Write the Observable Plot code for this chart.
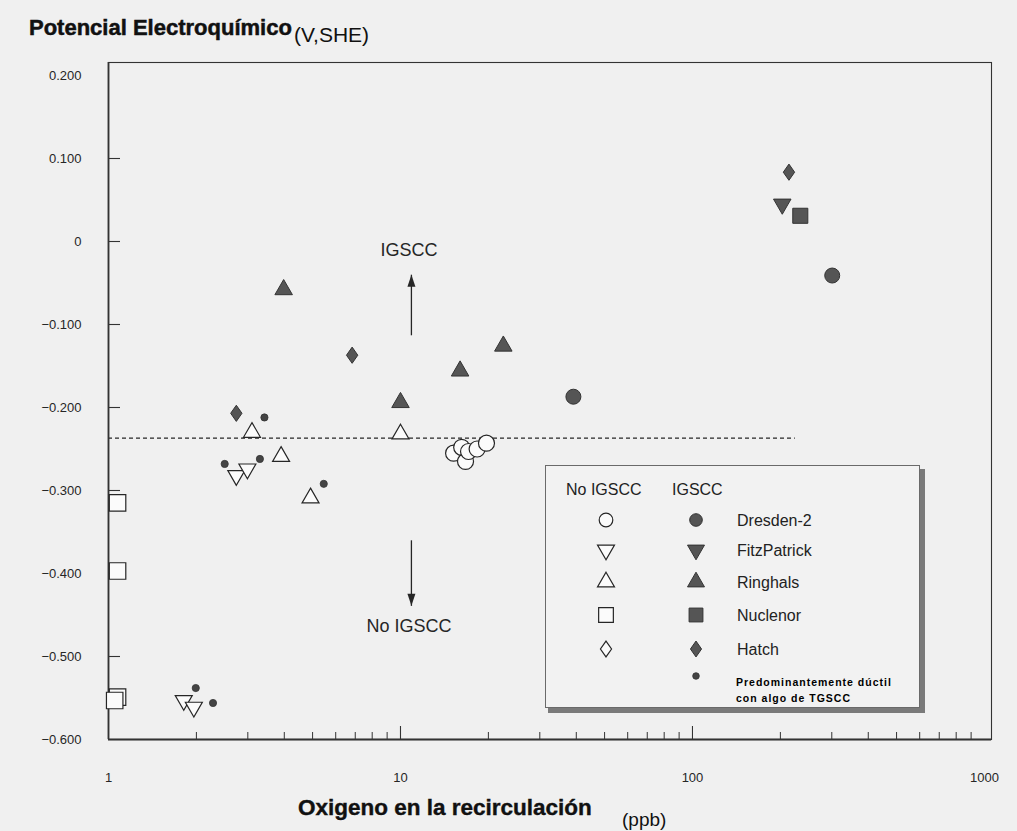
<!DOCTYPE html>
<html>
<head>
<meta charset="utf-8">
<script src="https://cdn.jsdelivr.net/npm/d3@7"></script>
<script src="https://cdn.jsdelivr.net/npm/@observablehq/plot@0.6"></script>
<style>
html,body{margin:0;padding:0;background:#f0f0f0;}
#wrap{position:relative;width:1017px;height:831px;overflow:hidden;}
#chart{position:absolute;left:0;top:0;}
#overlay{position:absolute;left:0;top:0;pointer-events:none;}
</style>
</head>
<body>
<div id="wrap"><div id="chart"></div></div>
<script>
// ---------------- data ----------------
// Oxygen (ppb) and potential (V, SHE)
const dresdenNoX = [15.2, 16.2, 16.7, 17.1, 18.3, 19.7];
const dresdenNoY = [-0.255, -0.248, -0.265, -0.253, -0.250, -0.243];
const dresdenX = [39.1, 301];
const dresdenY = [-0.187, -0.041];

const fitzNoX = [2.74, 2.99, 1.81, 1.96];
const fitzNoY = [-0.282, -0.274, -0.553, -0.561];
const fitzX = [203];
const fitzY = [0.045];

const ringNoX = [3.10, 3.90, 4.92, 10.0];
const ringNoY = [-0.230, -0.259, -0.309, -0.232];
const ringX = [3.98, 22.5, 16.0, 10.0];
const ringY = [-0.058, -0.126, -0.156, -0.194];

const nucNoX = [1.074, 1.074, 1.074, 1.05];
const nucNoY = [-0.315, -0.397, -0.549, -0.553];
const nucX = [234];
const nucY = [0.031];

const hatchX = [2.74, 6.83, 214];
const hatchY = [-0.207, -0.137, 0.0835];

const tgsccX = [3.42, 2.50, 3.30, 5.46, 1.99, 2.28];
const tgsccY = [-0.212, -0.268, -0.262, -0.292, -0.538, -0.556];

const thresholdY = [-0.237];
const thresholdX = [1, 225];

const arrowX = [10.9, 10.9];
const arrowFromY = [-0.113, -0.360];
const arrowToY = [-0.040, -0.439];
const arrowDir = [0, 180];
const regionText = ["IGSCC", "No IGSCC"];
const regionX = [10.7, 10.7];
const regionY = [-0.011, -0.463];

const yTicks = [0.2, 0.1, 0, -0.1, -0.2, -0.3, -0.4, -0.5, -0.6];
const xMajor = [1, 10, 100, 1000];
const xMinor = [2,3,4,5,6,7,8,9,20,30,40,50,60,70,80,90,200,300,400,500,600,700,800,900];
const xLabels = ["1", "10", "100", "1000"];

const plants = ["Dresden-2", "FitzPatrick", "Ringhals", "Nuclenor", "Hatch"];
const legendHeader = ["No IGSCC", "IGSCC"];
const tgsccNote = ["Predominantemente dúctil", "con algo de TGSCC"];

const titleY = "Potencial Electroquímico";
const unitY = "(V,SHE)";
const titleX = "Oxigeno en la recirculación";
const unitX = "(ppb)";

// ---------------- helpers ----------------
const rows = (xs, ys) => xs.map((x, i) => ({x, y: ys[i]}));
const FONT = "Liberation Sans, Arial, sans-serif";
const INK = "#262626";
const DARK = "#555";
const fmt = d => d === 0 ? "0" : d3.format(".3f")(d);

// rhombus a bit wider than d3's diamond
const rhombus = {
  draw(ctx, size) {
    const hh = Math.sqrt(size / 1.4), hw = 0.7 * hh;
    ctx.moveTo(0, -hh); ctx.lineTo(hw, 0); ctx.lineTo(0, hh); ctx.lineTo(-hw, 0); ctx.closePath();
  }
};
// filled arrow head, tip at origin pointing up
const arrowHead = {
  draw(ctx) {
    ctx.moveTo(0, 0); ctx.lineTo(4, 12); ctx.lineTo(-4, 12); ctx.closePath();
  }
};

const W = 1017, H = 831;
const mL = 108, mR = 26, mT = 62, mB = 92;
const frameW = W - mL - mR, frameH = H - mT - mB;

const openStyle = {fill: "#fbfbfb", stroke: INK, strokeWidth: 1.2};
const fillStyle = {fill: DARK, stroke: "#333", strokeWidth: 1};

const arrows = arrowX.map((x, i) => ({x, y1: arrowFromY[i], y2: arrowToY[i], rot: arrowDir[i]}));

const chart = Plot.plot({
  width: W, height: H,
  marginLeft: mL, marginRight: mR, marginTop: mT, marginBottom: mB,
  style: {background: "transparent", fontFamily: FONT, color: INK, overflow: "visible"},
  x: {type: "log", domain: [1, 1057], axis: null},
  y: {domain: [-0.6, 0.2], range: [739, 75], axis: null},
  marks: [
    Plot.ruleY(thresholdY, {y: d => d, x1: thresholdX[0], x2: thresholdX[1], stroke: INK, strokeWidth: 1.3, strokeDasharray: "4,3"}),
    Plot.frame({stroke: "#333", strokeWidth: 1.1}),
    Plot.ruleX([xMajor[0]], {stroke: "#333", strokeWidth: 1.8}),
    Plot.ruleY([yTicks[yTicks.length - 1]], {stroke: "#333", strokeWidth: 1.8}),
    Plot.tickY(yTicks.slice(1, -1), {y: d => d, insetRight: frameW - 12, stroke: "#333", strokeWidth: 1.1}),
    Plot.tickX(xMajor.slice(1, 3), {x: d => d, insetTop: frameH - 13, stroke: "#333", strokeWidth: 1.1}),
    Plot.tickX(xMinor, {x: d => d, insetTop: frameH - 7, stroke: "#333", strokeWidth: 1}),
    Plot.text(yTicks, {y: d => d, text: d => fmt(d), frameAnchor: "left", dx: -27, textAnchor: "end", fontSize: 13, fill: INK}),
    Plot.text(xMajor, {x: d => d, text: (d, i) => xLabels[i], frameAnchor: "bottom", dy: 42, fontSize: 13, fill: INK}),
    Plot.link(arrows, {x1: "x", x2: "x", y1: "y1", y2: "y2", stroke: INK, strokeWidth: 1.3}),
    Plot.dot(arrows, {x: "x", y: "y2", symbol: arrowHead, rotate: "rot", r: 3, fill: INK, stroke: "none"}),
    Plot.text(regionText, {x: (d, i) => regionX[i], y: (d, i) => regionY[i], text: d => d, fontSize: 18, fill: INK}),
    // No IGSCC (open)
    Plot.dot(rows(dresdenNoX, dresdenNoY), {x: "x", y: "y", symbol: "circle", r: 8, ...openStyle}),
    Plot.dot(rows(fitzNoX, fitzNoY), {x: "x", y: "y", symbol: "triangle", rotate: 180, r: 6.3, ...openStyle}),
    Plot.dot(rows(ringNoX, ringNoY), {x: "x", y: "y", symbol: "triangle", r: 6.3, ...openStyle}),
    Plot.dot(rows(nucNoX, nucNoY), {x: "x", y: "y", symbol: "square", r: 9.3, ...openStyle}),
    // IGSCC (filled)
    Plot.dot(rows(dresdenX, dresdenY), {x: "x", y: "y", symbol: "circle", r: 7.5, ...fillStyle}),
    Plot.dot(rows(fitzX, fitzY), {x: "x", y: "y", symbol: "triangle", rotate: 180, r: 6.5, ...fillStyle}),
    Plot.dot(rows(ringX, ringY), {x: "x", y: "y", symbol: "triangle", r: 6.5, ...fillStyle}),
    Plot.dot(rows(nucX, nucY), {x: "x", y: "y", symbol: "square", r: 8.5, ...fillStyle}),
    Plot.dot(rows(hatchX, hatchY), {x: "x", y: "y", symbol: rhombus, r: 5.4, ...fillStyle}),
    Plot.dot(rows(tgsccX, tgsccY), {x: "x", y: "y", symbol: "circle", r: 3.6, fill: "#444", stroke: "#333", strokeWidth: 0.8})
  ]
});
document.getElementById("chart").appendChild(chart);

// ---------------- titles + legend (overlay) ----------------
const ov = d3.select("#wrap").append("svg").attr("id", "overlay")
  .attr("width", W).attr("height", H).attr("font-family", FONT);

function txt(s, x, y, size, weight, extra = {}) {
  const t = ov.append("text").attr("x", x).attr("y", y).attr("font-size", size)
    .attr("font-weight", weight).attr("fill", "#111").text(s);
  for (const k in extra) t.attr(k, extra[k]);
  return t;
}
txt(titleY, 29, 35, 22, 700, {stroke: "#111", "stroke-width": 0.5});
txt(unitY, 294, 42, 21, 400);
txt(titleX, 298, 815, 22.5, 700, {stroke: "#111", "stroke-width": 0.4});
txt(unitX, 622, 826, 19, 400);

// legend box
const LX = 545, LY = 465, LW = 374, LH = 242;
ov.append("rect").attr("x", LX + 3).attr("y", LY + 4).attr("width", LW + 3).attr("height", LH + 2).attr("fill", "#7a7a7a");
ov.append("rect").attr("x", LX + 0.5).attr("y", LY + 0.5).attr("width", LW).attr("height", LH)
  .attr("fill", "#f2f2f2").attr("stroke", "#6a6a6a").attr("stroke-width", 1);

txt(legendHeader[0], 566, 495, 16, 400, {fill: "#222"});
txt(legendHeader[1], 672, 495, 16, 400, {fill: "#222"});

const rowsY = [520, 550, 582, 615, 649];
const legendSymbols = [
  {type: d3.symbolCircle, rOpen: 6.8, rFill: 6.3, rot: 0},
  {type: d3.symbolTriangle, rOpen: 6.3, rFill: 6.3, rot: 180},
  {type: d3.symbolTriangle, rOpen: 6.3, rFill: 6.3, rot: 0},
  {type: d3.symbolSquare, rOpen: 8.3, rFill: 7.8, rot: 0},
  {type: rhombus, rOpen: 5.3, rFill: 5.3, rot: 0}
];
plants.forEach((name, i) => {
  const s = legendSymbols[i], y = rowsY[i];
  ov.append("path").attr("d", d3.symbol(s.type, s.rOpen * s.rOpen * Math.PI)())
    .attr("transform", `translate(606,${y}) rotate(${s.rot})`)
    .attr("fill", "#fbfbfb").attr("stroke", INK).attr("stroke-width", 1.2);
  ov.append("path").attr("d", d3.symbol(s.type, s.rFill * s.rFill * Math.PI)())
    .attr("transform", `translate(696,${y}) rotate(${s.rot})`)
    .attr("fill", DARK).attr("stroke", "#333").attr("stroke-width", 1);
  txt(name, 737, y + 6, 16, 400, {fill: "#222"});
});
ov.append("path").attr("d", d3.symbol(d3.symbolCircle, 3.3 * 3.3 * Math.PI)())
  .attr("transform", "translate(696,676)").attr("fill", "#444").attr("stroke", "#333").attr("stroke-width", 0.8);
txt(tgsccNote[0], 736, 686, 10.5, 700, {"letter-spacing": 1.0, fill: "#000"});
txt(tgsccNote[1], 736, 702, 10.5, 700, {"letter-spacing": 1.0, fill: "#000"});
</script>
</body>
</html>
